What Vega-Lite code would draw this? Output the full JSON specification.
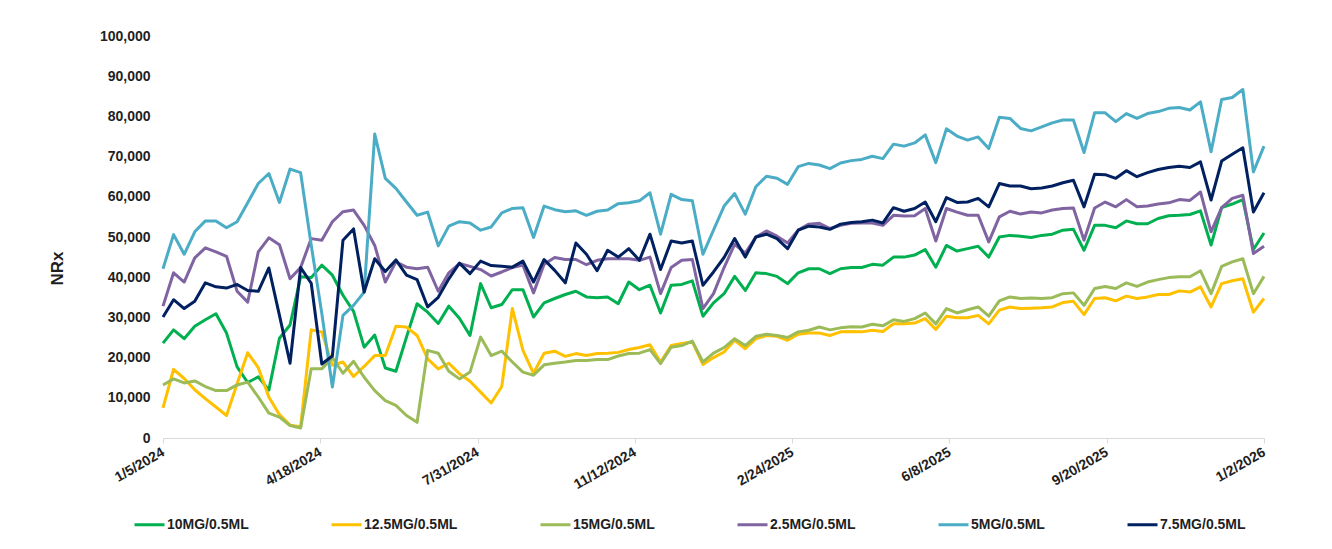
{
  "$schema": "https://vega.github.io/schema/vega-lite/v6.json",
  "width": 1101,
  "height": 402,
  "autosize": {"type": "none"},
  "padding": {"left": 163, "top": 36, "right": 68, "bottom": 111},
  "background": "white",
  "config": {"font": "Liberation Sans", "view": {"stroke": null}},
  "data": {"values": [
    {"s":"10MG/0.5ML","d":"2024-01-05","v":23600},{"s":"10MG/0.5ML","d":"2024-01-12","v":26900},{"s":"10MG/0.5ML","d":"2024-01-19","v":24700},{"s":"10MG/0.5ML","d":"2024-01-26","v":27800},{"s":"10MG/0.5ML","d":"2024-02-02","v":29400},{"s":"10MG/0.5ML","d":"2024-02-09","v":30900},{"s":"10MG/0.5ML","d":"2024-02-16","v":26100},{"s":"10MG/0.5ML","d":"2024-02-23","v":17700},{"s":"10MG/0.5ML","d":"2024-03-01","v":13800},{"s":"10MG/0.5ML","d":"2024-03-08","v":15200},
    {"s":"10MG/0.5ML","d":"2024-03-15","v":11900},{"s":"10MG/0.5ML","d":"2024-03-22","v":24800},{"s":"10MG/0.5ML","d":"2024-03-29","v":28100},{"s":"10MG/0.5ML","d":"2024-04-05","v":40100},{"s":"10MG/0.5ML","d":"2024-04-12","v":39900},{"s":"10MG/0.5ML","d":"2024-04-19","v":43000},{"s":"10MG/0.5ML","d":"2024-04-26","v":40500},{"s":"10MG/0.5ML","d":"2024-05-03","v":35500},{"s":"10MG/0.5ML","d":"2024-05-10","v":31500},{"s":"10MG/0.5ML","d":"2024-05-17","v":22600},
    {"s":"10MG/0.5ML","d":"2024-05-24","v":25600},{"s":"10MG/0.5ML","d":"2024-05-31","v":17400},{"s":"10MG/0.5ML","d":"2024-06-07","v":16600},{"s":"10MG/0.5ML","d":"2024-06-14","v":25100},{"s":"10MG/0.5ML","d":"2024-06-21","v":33400},{"s":"10MG/0.5ML","d":"2024-06-28","v":31300},{"s":"10MG/0.5ML","d":"2024-07-05","v":28500},{"s":"10MG/0.5ML","d":"2024-07-12","v":32800},{"s":"10MG/0.5ML","d":"2024-07-19","v":29800},{"s":"10MG/0.5ML","d":"2024-07-26","v":25500},
    {"s":"10MG/0.5ML","d":"2024-08-02","v":38400},{"s":"10MG/0.5ML","d":"2024-08-09","v":32400},{"s":"10MG/0.5ML","d":"2024-08-16","v":33200},{"s":"10MG/0.5ML","d":"2024-08-23","v":36900},{"s":"10MG/0.5ML","d":"2024-08-30","v":36900},{"s":"10MG/0.5ML","d":"2024-09-06","v":30100},{"s":"10MG/0.5ML","d":"2024-09-13","v":33600},{"s":"10MG/0.5ML","d":"2024-09-20","v":34700},{"s":"10MG/0.5ML","d":"2024-09-27","v":35700},{"s":"10MG/0.5ML","d":"2024-10-04","v":36500},
    {"s":"10MG/0.5ML","d":"2024-10-11","v":35100},{"s":"10MG/0.5ML","d":"2024-10-18","v":34900},{"s":"10MG/0.5ML","d":"2024-10-25","v":35100},{"s":"10MG/0.5ML","d":"2024-11-01","v":33400},{"s":"10MG/0.5ML","d":"2024-11-08","v":38800},{"s":"10MG/0.5ML","d":"2024-11-15","v":36900},{"s":"10MG/0.5ML","d":"2024-11-22","v":38000},{"s":"10MG/0.5ML","d":"2024-11-29","v":31100},{"s":"10MG/0.5ML","d":"2024-12-06","v":38000},{"s":"10MG/0.5ML","d":"2024-12-13","v":38200},
    {"s":"10MG/0.5ML","d":"2024-12-20","v":39100},{"s":"10MG/0.5ML","d":"2024-12-27","v":30300},{"s":"10MG/0.5ML","d":"2025-01-03","v":33600},{"s":"10MG/0.5ML","d":"2025-01-10","v":35900},{"s":"10MG/0.5ML","d":"2025-01-17","v":40200},{"s":"10MG/0.5ML","d":"2025-01-24","v":36700},{"s":"10MG/0.5ML","d":"2025-01-31","v":41100},{"s":"10MG/0.5ML","d":"2025-02-07","v":40900},{"s":"10MG/0.5ML","d":"2025-02-14","v":40200},{"s":"10MG/0.5ML","d":"2025-02-21","v":38400},
    {"s":"10MG/0.5ML","d":"2025-02-28","v":41100},{"s":"10MG/0.5ML","d":"2025-03-07","v":42100},{"s":"10MG/0.5ML","d":"2025-03-14","v":42100},{"s":"10MG/0.5ML","d":"2025-03-21","v":40900},{"s":"10MG/0.5ML","d":"2025-03-28","v":42100},{"s":"10MG/0.5ML","d":"2025-04-04","v":42400},{"s":"10MG/0.5ML","d":"2025-04-11","v":42400},{"s":"10MG/0.5ML","d":"2025-04-18","v":43200},{"s":"10MG/0.5ML","d":"2025-04-25","v":43000},{"s":"10MG/0.5ML","d":"2025-05-02","v":45000},
    {"s":"10MG/0.5ML","d":"2025-05-09","v":45000},{"s":"10MG/0.5ML","d":"2025-05-16","v":45500},{"s":"10MG/0.5ML","d":"2025-05-23","v":46900},{"s":"10MG/0.5ML","d":"2025-05-30","v":42500},{"s":"10MG/0.5ML","d":"2025-06-06","v":47900},{"s":"10MG/0.5ML","d":"2025-06-13","v":46500},{"s":"10MG/0.5ML","d":"2025-06-20","v":47100},{"s":"10MG/0.5ML","d":"2025-06-27","v":47700},{"s":"10MG/0.5ML","d":"2025-07-04","v":45000},{"s":"10MG/0.5ML","d":"2025-07-11","v":50000},
    {"s":"10MG/0.5ML","d":"2025-07-18","v":50400},{"s":"10MG/0.5ML","d":"2025-07-25","v":50200},{"s":"10MG/0.5ML","d":"2025-08-01","v":49900},{"s":"10MG/0.5ML","d":"2025-08-08","v":50400},{"s":"10MG/0.5ML","d":"2025-08-15","v":50700},{"s":"10MG/0.5ML","d":"2025-08-22","v":51700},{"s":"10MG/0.5ML","d":"2025-08-29","v":51900},{"s":"10MG/0.5ML","d":"2025-09-05","v":46700},{"s":"10MG/0.5ML","d":"2025-09-12","v":52900},{"s":"10MG/0.5ML","d":"2025-09-19","v":52900},
    {"s":"10MG/0.5ML","d":"2025-09-26","v":52300},{"s":"10MG/0.5ML","d":"2025-10-03","v":54000},{"s":"10MG/0.5ML","d":"2025-10-10","v":53300},{"s":"10MG/0.5ML","d":"2025-10-17","v":53300},{"s":"10MG/0.5ML","d":"2025-10-24","v":54600},{"s":"10MG/0.5ML","d":"2025-10-31","v":55300},{"s":"10MG/0.5ML","d":"2025-11-07","v":55400},{"s":"10MG/0.5ML","d":"2025-11-14","v":55600},{"s":"10MG/0.5ML","d":"2025-11-21","v":56500},{"s":"10MG/0.5ML","d":"2025-11-28","v":48000},
    {"s":"10MG/0.5ML","d":"2025-12-05","v":57300},{"s":"10MG/0.5ML","d":"2025-12-12","v":58200},{"s":"10MG/0.5ML","d":"2025-12-19","v":59300},{"s":"10MG/0.5ML","d":"2025-12-26","v":46900},{"s":"10MG/0.5ML","d":"2026-01-02","v":51000},

    {"s":"12.5MG/0.5ML","d":"2024-01-05","v":7500},{"s":"12.5MG/0.5ML","d":"2024-01-12","v":17100},{"s":"12.5MG/0.5ML","d":"2024-01-19","v":14800},{"s":"12.5MG/0.5ML","d":"2024-01-26","v":12000},{"s":"12.5MG/0.5ML","d":"2024-02-02","v":9800},{"s":"12.5MG/0.5ML","d":"2024-02-09","v":7700},{"s":"12.5MG/0.5ML","d":"2024-02-16","v":5600},{"s":"12.5MG/0.5ML","d":"2024-02-23","v":13500},{"s":"12.5MG/0.5ML","d":"2024-03-01","v":21200},{"s":"12.5MG/0.5ML","d":"2024-03-08","v":17500},
    {"s":"12.5MG/0.5ML","d":"2024-03-15","v":10200},{"s":"12.5MG/0.5ML","d":"2024-03-22","v":5800},{"s":"12.5MG/0.5ML","d":"2024-03-29","v":3200},{"s":"12.5MG/0.5ML","d":"2024-04-05","v":2800},{"s":"12.5MG/0.5ML","d":"2024-04-12","v":26900},{"s":"12.5MG/0.5ML","d":"2024-04-19","v":26400},{"s":"12.5MG/0.5ML","d":"2024-04-26","v":18100},{"s":"12.5MG/0.5ML","d":"2024-05-03","v":18900},{"s":"12.5MG/0.5ML","d":"2024-05-10","v":15300},{"s":"12.5MG/0.5ML","d":"2024-05-17","v":17800},
    {"s":"12.5MG/0.5ML","d":"2024-05-24","v":20500},{"s":"12.5MG/0.5ML","d":"2024-05-31","v":20500},{"s":"12.5MG/0.5ML","d":"2024-06-07","v":27800},{"s":"12.5MG/0.5ML","d":"2024-06-14","v":27600},{"s":"12.5MG/0.5ML","d":"2024-06-21","v":25500},{"s":"12.5MG/0.5ML","d":"2024-06-28","v":19700},{"s":"12.5MG/0.5ML","d":"2024-07-05","v":17200},{"s":"12.5MG/0.5ML","d":"2024-07-12","v":18600},{"s":"12.5MG/0.5ML","d":"2024-07-19","v":16000},{"s":"12.5MG/0.5ML","d":"2024-07-26","v":14100},
    {"s":"12.5MG/0.5ML","d":"2024-08-02","v":11400},{"s":"12.5MG/0.5ML","d":"2024-08-09","v":8700},{"s":"12.5MG/0.5ML","d":"2024-08-16","v":12800},{"s":"12.5MG/0.5ML","d":"2024-08-23","v":32200},{"s":"12.5MG/0.5ML","d":"2024-08-30","v":21800},{"s":"12.5MG/0.5ML","d":"2024-09-06","v":16100},{"s":"12.5MG/0.5ML","d":"2024-09-13","v":21100},{"s":"12.5MG/0.5ML","d":"2024-09-20","v":21600},{"s":"12.5MG/0.5ML","d":"2024-09-27","v":20300},{"s":"12.5MG/0.5ML","d":"2024-10-04","v":21000},
    {"s":"12.5MG/0.5ML","d":"2024-10-11","v":20500},{"s":"12.5MG/0.5ML","d":"2024-10-18","v":21000},{"s":"12.5MG/0.5ML","d":"2024-10-25","v":21100},{"s":"12.5MG/0.5ML","d":"2024-11-01","v":21300},{"s":"12.5MG/0.5ML","d":"2024-11-08","v":22000},{"s":"12.5MG/0.5ML","d":"2024-11-15","v":22500},{"s":"12.5MG/0.5ML","d":"2024-11-22","v":23200},{"s":"12.5MG/0.5ML","d":"2024-11-29","v":18900},{"s":"12.5MG/0.5ML","d":"2024-12-06","v":23000},{"s":"12.5MG/0.5ML","d":"2024-12-13","v":23500},
    {"s":"12.5MG/0.5ML","d":"2024-12-20","v":23900},{"s":"12.5MG/0.5ML","d":"2024-12-27","v":18300},{"s":"12.5MG/0.5ML","d":"2025-01-03","v":20000},{"s":"12.5MG/0.5ML","d":"2025-01-10","v":21400},{"s":"12.5MG/0.5ML","d":"2025-01-17","v":24300},{"s":"12.5MG/0.5ML","d":"2025-01-24","v":22200},{"s":"12.5MG/0.5ML","d":"2025-01-31","v":24700},{"s":"12.5MG/0.5ML","d":"2025-02-07","v":25500},{"s":"12.5MG/0.5ML","d":"2025-02-14","v":25300},{"s":"12.5MG/0.5ML","d":"2025-02-21","v":24300},
    {"s":"12.5MG/0.5ML","d":"2025-02-28","v":25800},{"s":"12.5MG/0.5ML","d":"2025-03-07","v":26100},{"s":"12.5MG/0.5ML","d":"2025-03-14","v":26100},{"s":"12.5MG/0.5ML","d":"2025-03-21","v":25500},{"s":"12.5MG/0.5ML","d":"2025-03-28","v":26400},{"s":"12.5MG/0.5ML","d":"2025-04-04","v":26500},{"s":"12.5MG/0.5ML","d":"2025-04-11","v":26400},{"s":"12.5MG/0.5ML","d":"2025-04-18","v":26800},{"s":"12.5MG/0.5ML","d":"2025-04-25","v":26500},{"s":"12.5MG/0.5ML","d":"2025-05-02","v":28400},
    {"s":"12.5MG/0.5ML","d":"2025-05-09","v":28400},{"s":"12.5MG/0.5ML","d":"2025-05-16","v":28600},{"s":"12.5MG/0.5ML","d":"2025-05-23","v":29700},{"s":"12.5MG/0.5ML","d":"2025-05-30","v":27000},{"s":"12.5MG/0.5ML","d":"2025-06-06","v":30300},{"s":"12.5MG/0.5ML","d":"2025-06-13","v":29900},{"s":"12.5MG/0.5ML","d":"2025-06-20","v":29900},{"s":"12.5MG/0.5ML","d":"2025-06-27","v":30500},{"s":"12.5MG/0.5ML","d":"2025-07-04","v":28400},{"s":"12.5MG/0.5ML","d":"2025-07-11","v":31800},
    {"s":"12.5MG/0.5ML","d":"2025-07-18","v":32600},{"s":"12.5MG/0.5ML","d":"2025-07-25","v":32200},{"s":"12.5MG/0.5ML","d":"2025-08-01","v":32300},{"s":"12.5MG/0.5ML","d":"2025-08-08","v":32400},{"s":"12.5MG/0.5ML","d":"2025-08-15","v":32600},{"s":"12.5MG/0.5ML","d":"2025-08-22","v":33700},{"s":"12.5MG/0.5ML","d":"2025-08-29","v":34000},{"s":"12.5MG/0.5ML","d":"2025-09-05","v":30700},{"s":"12.5MG/0.5ML","d":"2025-09-12","v":34700},{"s":"12.5MG/0.5ML","d":"2025-09-19","v":34900},
    {"s":"12.5MG/0.5ML","d":"2025-09-26","v":34100},{"s":"12.5MG/0.5ML","d":"2025-10-03","v":35300},{"s":"12.5MG/0.5ML","d":"2025-10-10","v":34700},{"s":"12.5MG/0.5ML","d":"2025-10-17","v":35100},{"s":"12.5MG/0.5ML","d":"2025-10-24","v":35700},{"s":"12.5MG/0.5ML","d":"2025-10-31","v":35700},{"s":"12.5MG/0.5ML","d":"2025-11-07","v":36600},{"s":"12.5MG/0.5ML","d":"2025-11-14","v":36300},{"s":"12.5MG/0.5ML","d":"2025-11-21","v":37600},{"s":"12.5MG/0.5ML","d":"2025-11-28","v":32600},
    {"s":"12.5MG/0.5ML","d":"2025-12-05","v":38400},{"s":"12.5MG/0.5ML","d":"2025-12-12","v":39100},{"s":"12.5MG/0.5ML","d":"2025-12-19","v":39600},{"s":"12.5MG/0.5ML","d":"2025-12-26","v":31300},{"s":"12.5MG/0.5ML","d":"2026-01-02","v":34700},

    {"s":"15MG/0.5ML","d":"2024-01-05","v":13200},{"s":"15MG/0.5ML","d":"2024-01-12","v":14700},{"s":"15MG/0.5ML","d":"2024-01-19","v":13700},{"s":"15MG/0.5ML","d":"2024-01-26","v":14200},{"s":"15MG/0.5ML","d":"2024-02-02","v":12800},{"s":"15MG/0.5ML","d":"2024-02-09","v":11800},{"s":"15MG/0.5ML","d":"2024-02-16","v":11800},{"s":"15MG/0.5ML","d":"2024-02-23","v":13200},{"s":"15MG/0.5ML","d":"2024-03-01","v":13900},{"s":"15MG/0.5ML","d":"2024-03-08","v":10200},
    {"s":"15MG/0.5ML","d":"2024-03-15","v":6200},{"s":"15MG/0.5ML","d":"2024-03-22","v":5200},{"s":"15MG/0.5ML","d":"2024-03-29","v":3100},{"s":"15MG/0.5ML","d":"2024-04-05","v":2500},{"s":"15MG/0.5ML","d":"2024-04-12","v":17200},{"s":"15MG/0.5ML","d":"2024-04-19","v":17200},{"s":"15MG/0.5ML","d":"2024-04-26","v":20000},{"s":"15MG/0.5ML","d":"2024-05-03","v":16100},{"s":"15MG/0.5ML","d":"2024-05-10","v":19100},{"s":"15MG/0.5ML","d":"2024-05-17","v":15100},
    {"s":"15MG/0.5ML","d":"2024-05-24","v":11800},{"s":"15MG/0.5ML","d":"2024-05-31","v":9300},{"s":"15MG/0.5ML","d":"2024-06-07","v":8100},{"s":"15MG/0.5ML","d":"2024-06-14","v":5600},{"s":"15MG/0.5ML","d":"2024-06-21","v":3900},{"s":"15MG/0.5ML","d":"2024-06-28","v":21800},{"s":"15MG/0.5ML","d":"2024-07-05","v":21100},{"s":"15MG/0.5ML","d":"2024-07-12","v":16600},{"s":"15MG/0.5ML","d":"2024-07-19","v":14700},{"s":"15MG/0.5ML","d":"2024-07-26","v":16400},
    {"s":"15MG/0.5ML","d":"2024-08-02","v":25100},{"s":"15MG/0.5ML","d":"2024-08-09","v":20500},{"s":"15MG/0.5ML","d":"2024-08-16","v":21600},{"s":"15MG/0.5ML","d":"2024-08-23","v":18900},{"s":"15MG/0.5ML","d":"2024-08-30","v":16400},{"s":"15MG/0.5ML","d":"2024-09-06","v":15600},{"s":"15MG/0.5ML","d":"2024-09-13","v":18200},{"s":"15MG/0.5ML","d":"2024-09-20","v":18600},{"s":"15MG/0.5ML","d":"2024-09-27","v":18900},{"s":"15MG/0.5ML","d":"2024-10-04","v":19300},
    {"s":"15MG/0.5ML","d":"2024-10-11","v":19300},{"s":"15MG/0.5ML","d":"2024-10-18","v":19500},{"s":"15MG/0.5ML","d":"2024-10-25","v":19500},{"s":"15MG/0.5ML","d":"2024-11-01","v":20400},{"s":"15MG/0.5ML","d":"2024-11-08","v":21000},{"s":"15MG/0.5ML","d":"2024-11-15","v":21100},{"s":"15MG/0.5ML","d":"2024-11-22","v":22000},{"s":"15MG/0.5ML","d":"2024-11-29","v":18500},{"s":"15MG/0.5ML","d":"2024-12-06","v":22600},{"s":"15MG/0.5ML","d":"2024-12-13","v":23000},
    {"s":"15MG/0.5ML","d":"2024-12-20","v":24100},{"s":"15MG/0.5ML","d":"2024-12-27","v":18900},{"s":"15MG/0.5ML","d":"2025-01-03","v":21100},{"s":"15MG/0.5ML","d":"2025-01-10","v":22500},{"s":"15MG/0.5ML","d":"2025-01-17","v":24700},{"s":"15MG/0.5ML","d":"2025-01-24","v":23000},{"s":"15MG/0.5ML","d":"2025-01-31","v":25300},{"s":"15MG/0.5ML","d":"2025-02-07","v":25800},{"s":"15MG/0.5ML","d":"2025-02-14","v":25500},{"s":"15MG/0.5ML","d":"2025-02-21","v":25000},
    {"s":"15MG/0.5ML","d":"2025-02-28","v":26400},{"s":"15MG/0.5ML","d":"2025-03-07","v":26800},{"s":"15MG/0.5ML","d":"2025-03-14","v":27600},{"s":"15MG/0.5ML","d":"2025-03-21","v":26900},{"s":"15MG/0.5ML","d":"2025-03-28","v":27400},{"s":"15MG/0.5ML","d":"2025-04-04","v":27700},{"s":"15MG/0.5ML","d":"2025-04-11","v":27600},{"s":"15MG/0.5ML","d":"2025-04-18","v":28300},{"s":"15MG/0.5ML","d":"2025-04-25","v":27900},{"s":"15MG/0.5ML","d":"2025-05-02","v":29400},
    {"s":"15MG/0.5ML","d":"2025-05-09","v":29000},{"s":"15MG/0.5ML","d":"2025-05-16","v":29700},{"s":"15MG/0.5ML","d":"2025-05-23","v":31100},{"s":"15MG/0.5ML","d":"2025-05-30","v":28400},{"s":"15MG/0.5ML","d":"2025-06-06","v":32200},{"s":"15MG/0.5ML","d":"2025-06-13","v":31100},{"s":"15MG/0.5ML","d":"2025-06-20","v":31900},{"s":"15MG/0.5ML","d":"2025-06-27","v":32600},{"s":"15MG/0.5ML","d":"2025-07-04","v":30300},{"s":"15MG/0.5ML","d":"2025-07-11","v":34100},
    {"s":"15MG/0.5ML","d":"2025-07-18","v":35100},{"s":"15MG/0.5ML","d":"2025-07-25","v":34700},{"s":"15MG/0.5ML","d":"2025-08-01","v":34800},{"s":"15MG/0.5ML","d":"2025-08-08","v":34700},{"s":"15MG/0.5ML","d":"2025-08-15","v":34900},{"s":"15MG/0.5ML","d":"2025-08-22","v":35900},{"s":"15MG/0.5ML","d":"2025-08-29","v":36100},{"s":"15MG/0.5ML","d":"2025-09-05","v":33000},{"s":"15MG/0.5ML","d":"2025-09-12","v":37200},{"s":"15MG/0.5ML","d":"2025-09-19","v":37700},
    {"s":"15MG/0.5ML","d":"2025-09-26","v":37200},{"s":"15MG/0.5ML","d":"2025-10-03","v":38600},{"s":"15MG/0.5ML","d":"2025-10-10","v":37700},{"s":"15MG/0.5ML","d":"2025-10-17","v":38800},{"s":"15MG/0.5ML","d":"2025-10-24","v":39400},{"s":"15MG/0.5ML","d":"2025-10-31","v":39900},{"s":"15MG/0.5ML","d":"2025-11-07","v":40100},{"s":"15MG/0.5ML","d":"2025-11-14","v":40100},{"s":"15MG/0.5ML","d":"2025-11-21","v":41600},{"s":"15MG/0.5ML","d":"2025-11-28","v":35900},
    {"s":"15MG/0.5ML","d":"2025-12-05","v":42700},{"s":"15MG/0.5ML","d":"2025-12-12","v":43800},{"s":"15MG/0.5ML","d":"2025-12-19","v":44600},{"s":"15MG/0.5ML","d":"2025-12-26","v":35900},{"s":"15MG/0.5ML","d":"2026-01-02","v":40200},

    {"s":"2.5MG/0.5ML","d":"2024-01-05","v":32800},{"s":"2.5MG/0.5ML","d":"2024-01-12","v":41100},{"s":"2.5MG/0.5ML","d":"2024-01-19","v":38800},{"s":"2.5MG/0.5ML","d":"2024-01-26","v":44800},{"s":"2.5MG/0.5ML","d":"2024-02-02","v":47300},{"s":"2.5MG/0.5ML","d":"2024-02-09","v":46300},{"s":"2.5MG/0.5ML","d":"2024-02-16","v":45200},{"s":"2.5MG/0.5ML","d":"2024-02-23","v":36500},{"s":"2.5MG/0.5ML","d":"2024-03-01","v":33800},{"s":"2.5MG/0.5ML","d":"2024-03-08","v":46300},
    {"s":"2.5MG/0.5ML","d":"2024-03-15","v":49800},{"s":"2.5MG/0.5ML","d":"2024-03-22","v":48100},{"s":"2.5MG/0.5ML","d":"2024-03-29","v":39600},{"s":"2.5MG/0.5ML","d":"2024-04-05","v":42400},{"s":"2.5MG/0.5ML","d":"2024-04-12","v":49600},{"s":"2.5MG/0.5ML","d":"2024-04-19","v":49200},{"s":"2.5MG/0.5ML","d":"2024-04-26","v":53800},{"s":"2.5MG/0.5ML","d":"2024-05-03","v":56300},{"s":"2.5MG/0.5ML","d":"2024-05-10","v":56700},{"s":"2.5MG/0.5ML","d":"2024-05-17","v":52900},
    {"s":"2.5MG/0.5ML","d":"2024-05-24","v":47900},{"s":"2.5MG/0.5ML","d":"2024-05-31","v":38800},{"s":"2.5MG/0.5ML","d":"2024-06-07","v":43800},{"s":"2.5MG/0.5ML","d":"2024-06-14","v":42500},{"s":"2.5MG/0.5ML","d":"2024-06-21","v":42100},{"s":"2.5MG/0.5ML","d":"2024-06-28","v":42500},{"s":"2.5MG/0.5ML","d":"2024-07-05","v":36500},{"s":"2.5MG/0.5ML","d":"2024-07-12","v":41100},{"s":"2.5MG/0.5ML","d":"2024-07-19","v":43400},{"s":"2.5MG/0.5ML","d":"2024-07-26","v":42700},
    {"s":"2.5MG/0.5ML","d":"2024-08-02","v":41900},{"s":"2.5MG/0.5ML","d":"2024-08-09","v":40300},{"s":"2.5MG/0.5ML","d":"2024-08-16","v":41300},{"s":"2.5MG/0.5ML","d":"2024-08-23","v":42400},{"s":"2.5MG/0.5ML","d":"2024-08-30","v":43000},{"s":"2.5MG/0.5ML","d":"2024-09-06","v":36100},{"s":"2.5MG/0.5ML","d":"2024-09-13","v":43200},{"s":"2.5MG/0.5ML","d":"2024-09-20","v":44900},{"s":"2.5MG/0.5ML","d":"2024-09-27","v":44400},{"s":"2.5MG/0.5ML","d":"2024-10-04","v":44400},
    {"s":"2.5MG/0.5ML","d":"2024-10-11","v":43100},{"s":"2.5MG/0.5ML","d":"2024-10-18","v":44200},{"s":"2.5MG/0.5ML","d":"2024-10-25","v":44600},{"s":"2.5MG/0.5ML","d":"2024-11-01","v":44600},{"s":"2.5MG/0.5ML","d":"2024-11-08","v":44600},{"s":"2.5MG/0.5ML","d":"2024-11-15","v":44200},{"s":"2.5MG/0.5ML","d":"2024-11-22","v":45000},{"s":"2.5MG/0.5ML","d":"2024-11-29","v":35900},{"s":"2.5MG/0.5ML","d":"2024-12-06","v":42400},{"s":"2.5MG/0.5ML","d":"2024-12-13","v":44200},
    {"s":"2.5MG/0.5ML","d":"2024-12-20","v":44400},{"s":"2.5MG/0.5ML","d":"2024-12-27","v":32200},{"s":"2.5MG/0.5ML","d":"2025-01-03","v":35900},{"s":"2.5MG/0.5ML","d":"2025-01-10","v":42400},{"s":"2.5MG/0.5ML","d":"2025-01-17","v":48200},{"s":"2.5MG/0.5ML","d":"2025-01-24","v":46000},{"s":"2.5MG/0.5ML","d":"2025-01-31","v":50000},{"s":"2.5MG/0.5ML","d":"2025-02-07","v":51500},{"s":"2.5MG/0.5ML","d":"2025-02-14","v":50200},{"s":"2.5MG/0.5ML","d":"2025-02-21","v":48500},
    {"s":"2.5MG/0.5ML","d":"2025-02-28","v":51700},{"s":"2.5MG/0.5ML","d":"2025-03-07","v":53200},{"s":"2.5MG/0.5ML","d":"2025-03-14","v":53400},{"s":"2.5MG/0.5ML","d":"2025-03-21","v":52100},{"s":"2.5MG/0.5ML","d":"2025-03-28","v":52900},{"s":"2.5MG/0.5ML","d":"2025-04-04","v":53400},{"s":"2.5MG/0.5ML","d":"2025-04-11","v":53500},{"s":"2.5MG/0.5ML","d":"2025-04-18","v":53500},{"s":"2.5MG/0.5ML","d":"2025-04-25","v":52900},{"s":"2.5MG/0.5ML","d":"2025-05-02","v":55400},
    {"s":"2.5MG/0.5ML","d":"2025-05-09","v":55200},{"s":"2.5MG/0.5ML","d":"2025-05-16","v":55300},{"s":"2.5MG/0.5ML","d":"2025-05-23","v":57100},{"s":"2.5MG/0.5ML","d":"2025-05-30","v":49000},{"s":"2.5MG/0.5ML","d":"2025-06-06","v":57100},{"s":"2.5MG/0.5ML","d":"2025-06-13","v":56200},{"s":"2.5MG/0.5ML","d":"2025-06-20","v":55400},{"s":"2.5MG/0.5ML","d":"2025-06-27","v":55400},{"s":"2.5MG/0.5ML","d":"2025-07-04","v":48800},{"s":"2.5MG/0.5ML","d":"2025-07-11","v":55000},
    {"s":"2.5MG/0.5ML","d":"2025-07-18","v":56400},{"s":"2.5MG/0.5ML","d":"2025-07-25","v":55700},{"s":"2.5MG/0.5ML","d":"2025-08-01","v":56200},{"s":"2.5MG/0.5ML","d":"2025-08-08","v":56000},{"s":"2.5MG/0.5ML","d":"2025-08-15","v":56700},{"s":"2.5MG/0.5ML","d":"2025-08-22","v":57100},{"s":"2.5MG/0.5ML","d":"2025-08-29","v":57200},{"s":"2.5MG/0.5ML","d":"2025-09-05","v":49200},{"s":"2.5MG/0.5ML","d":"2025-09-12","v":57200},{"s":"2.5MG/0.5ML","d":"2025-09-19","v":58700},
    {"s":"2.5MG/0.5ML","d":"2025-09-26","v":57500},{"s":"2.5MG/0.5ML","d":"2025-10-03","v":59300},{"s":"2.5MG/0.5ML","d":"2025-10-10","v":57500},{"s":"2.5MG/0.5ML","d":"2025-10-17","v":57700},{"s":"2.5MG/0.5ML","d":"2025-10-24","v":58200},{"s":"2.5MG/0.5ML","d":"2025-10-31","v":58500},{"s":"2.5MG/0.5ML","d":"2025-11-07","v":59300},{"s":"2.5MG/0.5ML","d":"2025-11-14","v":59100},{"s":"2.5MG/0.5ML","d":"2025-11-21","v":61200},{"s":"2.5MG/0.5ML","d":"2025-11-28","v":51300},
    {"s":"2.5MG/0.5ML","d":"2025-12-05","v":57300},{"s":"2.5MG/0.5ML","d":"2025-12-12","v":59600},{"s":"2.5MG/0.5ML","d":"2025-12-19","v":60400},{"s":"2.5MG/0.5ML","d":"2025-12-26","v":45900},{"s":"2.5MG/0.5ML","d":"2026-01-02","v":47700},

    {"s":"5MG/0.5ML","d":"2024-01-05","v":42100},{"s":"5MG/0.5ML","d":"2024-01-12","v":50600},{"s":"5MG/0.5ML","d":"2024-01-19","v":45700},{"s":"5MG/0.5ML","d":"2024-01-26","v":51300},{"s":"5MG/0.5ML","d":"2024-02-02","v":54000},{"s":"5MG/0.5ML","d":"2024-02-09","v":54000},{"s":"5MG/0.5ML","d":"2024-02-16","v":52300},{"s":"5MG/0.5ML","d":"2024-02-23","v":53800},{"s":"5MG/0.5ML","d":"2024-03-01","v":58500},{"s":"5MG/0.5ML","d":"2024-03-08","v":63300},
    {"s":"5MG/0.5ML","d":"2024-03-15","v":65800},{"s":"5MG/0.5ML","d":"2024-03-22","v":58600},{"s":"5MG/0.5ML","d":"2024-03-29","v":66900},{"s":"5MG/0.5ML","d":"2024-04-05","v":66000},{"s":"5MG/0.5ML","d":"2024-04-12","v":48000},{"s":"5MG/0.5ML","d":"2024-04-19","v":31000},{"s":"5MG/0.5ML","d":"2024-04-26","v":12700},{"s":"5MG/0.5ML","d":"2024-05-03","v":30500},{"s":"5MG/0.5ML","d":"2024-05-10","v":33000},{"s":"5MG/0.5ML","d":"2024-05-17","v":36300},
    {"s":"5MG/0.5ML","d":"2024-05-24","v":75600},{"s":"5MG/0.5ML","d":"2024-05-31","v":64600},{"s":"5MG/0.5ML","d":"2024-06-07","v":62100},{"s":"5MG/0.5ML","d":"2024-06-14","v":58700},{"s":"5MG/0.5ML","d":"2024-06-21","v":55400},{"s":"5MG/0.5ML","d":"2024-06-28","v":56200},{"s":"5MG/0.5ML","d":"2024-07-05","v":47800},{"s":"5MG/0.5ML","d":"2024-07-12","v":52700},{"s":"5MG/0.5ML","d":"2024-07-19","v":53800},{"s":"5MG/0.5ML","d":"2024-07-26","v":53500},
    {"s":"5MG/0.5ML","d":"2024-08-02","v":51700},{"s":"5MG/0.5ML","d":"2024-08-09","v":52500},{"s":"5MG/0.5ML","d":"2024-08-16","v":56000},{"s":"5MG/0.5ML","d":"2024-08-23","v":57100},{"s":"5MG/0.5ML","d":"2024-08-30","v":57300},{"s":"5MG/0.5ML","d":"2024-09-06","v":49900},{"s":"5MG/0.5ML","d":"2024-09-13","v":57700},{"s":"5MG/0.5ML","d":"2024-09-20","v":56800},{"s":"5MG/0.5ML","d":"2024-09-27","v":56300},{"s":"5MG/0.5ML","d":"2024-10-04","v":56500},
    {"s":"5MG/0.5ML","d":"2024-10-11","v":55400},{"s":"5MG/0.5ML","d":"2024-10-18","v":56400},{"s":"5MG/0.5ML","d":"2024-10-25","v":56700},{"s":"5MG/0.5ML","d":"2024-11-01","v":58300},{"s":"5MG/0.5ML","d":"2024-11-08","v":58500},{"s":"5MG/0.5ML","d":"2024-11-15","v":59000},{"s":"5MG/0.5ML","d":"2024-11-22","v":61000},{"s":"5MG/0.5ML","d":"2024-11-29","v":50700},{"s":"5MG/0.5ML","d":"2024-12-06","v":60600},{"s":"5MG/0.5ML","d":"2024-12-13","v":59300},
    {"s":"5MG/0.5ML","d":"2024-12-20","v":59000},{"s":"5MG/0.5ML","d":"2024-12-27","v":45700},{"s":"5MG/0.5ML","d":"2025-01-03","v":51700},{"s":"5MG/0.5ML","d":"2025-01-10","v":57700},{"s":"5MG/0.5ML","d":"2025-01-17","v":60800},{"s":"5MG/0.5ML","d":"2025-01-24","v":55700},{"s":"5MG/0.5ML","d":"2025-01-31","v":62500},{"s":"5MG/0.5ML","d":"2025-02-07","v":65100},{"s":"5MG/0.5ML","d":"2025-02-14","v":64600},{"s":"5MG/0.5ML","d":"2025-02-21","v":63100},
    {"s":"5MG/0.5ML","d":"2025-02-28","v":67500},{"s":"5MG/0.5ML","d":"2025-03-07","v":68300},{"s":"5MG/0.5ML","d":"2025-03-14","v":67900},{"s":"5MG/0.5ML","d":"2025-03-21","v":67000},{"s":"5MG/0.5ML","d":"2025-03-28","v":68400},{"s":"5MG/0.5ML","d":"2025-04-04","v":69000},{"s":"5MG/0.5ML","d":"2025-04-11","v":69300},{"s":"5MG/0.5ML","d":"2025-04-18","v":70100},{"s":"5MG/0.5ML","d":"2025-04-25","v":69500},{"s":"5MG/0.5ML","d":"2025-05-02","v":73100},
    {"s":"5MG/0.5ML","d":"2025-05-09","v":72600},{"s":"5MG/0.5ML","d":"2025-05-16","v":73400},{"s":"5MG/0.5ML","d":"2025-05-23","v":75400},{"s":"5MG/0.5ML","d":"2025-05-30","v":68500},{"s":"5MG/0.5ML","d":"2025-06-06","v":76900},{"s":"5MG/0.5ML","d":"2025-06-13","v":75100},{"s":"5MG/0.5ML","d":"2025-06-20","v":74100},{"s":"5MG/0.5ML","d":"2025-06-27","v":74900},{"s":"5MG/0.5ML","d":"2025-07-04","v":72000},{"s":"5MG/0.5ML","d":"2025-07-11","v":79800},
    {"s":"5MG/0.5ML","d":"2025-07-18","v":79500},{"s":"5MG/0.5ML","d":"2025-07-25","v":77000},{"s":"5MG/0.5ML","d":"2025-08-01","v":76400},{"s":"5MG/0.5ML","d":"2025-08-08","v":77400},{"s":"5MG/0.5ML","d":"2025-08-15","v":78400},{"s":"5MG/0.5ML","d":"2025-08-22","v":79100},{"s":"5MG/0.5ML","d":"2025-08-29","v":79100},{"s":"5MG/0.5ML","d":"2025-09-05","v":71000},{"s":"5MG/0.5ML","d":"2025-09-12","v":80900},{"s":"5MG/0.5ML","d":"2025-09-19","v":80900},
    {"s":"5MG/0.5ML","d":"2025-09-26","v":78700},{"s":"5MG/0.5ML","d":"2025-10-03","v":80700},{"s":"5MG/0.5ML","d":"2025-10-10","v":79500},{"s":"5MG/0.5ML","d":"2025-10-17","v":80700},{"s":"5MG/0.5ML","d":"2025-10-24","v":81200},{"s":"5MG/0.5ML","d":"2025-10-31","v":82000},{"s":"5MG/0.5ML","d":"2025-11-07","v":82200},{"s":"5MG/0.5ML","d":"2025-11-14","v":81600},{"s":"5MG/0.5ML","d":"2025-11-21","v":83600},{"s":"5MG/0.5ML","d":"2025-11-28","v":71200},
    {"s":"5MG/0.5ML","d":"2025-12-05","v":84200},{"s":"5MG/0.5ML","d":"2025-12-12","v":84700},{"s":"5MG/0.5ML","d":"2025-12-19","v":86700},{"s":"5MG/0.5ML","d":"2025-12-26","v":66200},{"s":"5MG/0.5ML","d":"2026-01-02","v":72600},

    {"s":"7.5MG/0.5ML","d":"2024-01-05","v":30100},{"s":"7.5MG/0.5ML","d":"2024-01-12","v":34400},{"s":"7.5MG/0.5ML","d":"2024-01-19","v":32200},{"s":"7.5MG/0.5ML","d":"2024-01-26","v":34000},{"s":"7.5MG/0.5ML","d":"2024-02-02","v":38600},{"s":"7.5MG/0.5ML","d":"2024-02-09","v":37600},{"s":"7.5MG/0.5ML","d":"2024-02-16","v":37300},{"s":"7.5MG/0.5ML","d":"2024-02-23","v":38200},{"s":"7.5MG/0.5ML","d":"2024-03-01","v":36700},{"s":"7.5MG/0.5ML","d":"2024-03-08","v":36500},
    {"s":"7.5MG/0.5ML","d":"2024-03-15","v":42300},{"s":"7.5MG/0.5ML","d":"2024-03-22","v":30500},{"s":"7.5MG/0.5ML","d":"2024-03-29","v":18600},{"s":"7.5MG/0.5ML","d":"2024-04-05","v":42400},{"s":"7.5MG/0.5ML","d":"2024-04-12","v":38500},{"s":"7.5MG/0.5ML","d":"2024-04-19","v":18400},{"s":"7.5MG/0.5ML","d":"2024-04-26","v":20400},{"s":"7.5MG/0.5ML","d":"2024-05-03","v":49200},{"s":"7.5MG/0.5ML","d":"2024-05-10","v":52000},{"s":"7.5MG/0.5ML","d":"2024-05-17","v":36300},
    {"s":"7.5MG/0.5ML","d":"2024-05-24","v":44600},{"s":"7.5MG/0.5ML","d":"2024-05-31","v":41400},{"s":"7.5MG/0.5ML","d":"2024-06-07","v":44300},{"s":"7.5MG/0.5ML","d":"2024-06-14","v":40500},{"s":"7.5MG/0.5ML","d":"2024-06-21","v":39400},{"s":"7.5MG/0.5ML","d":"2024-06-28","v":32600},{"s":"7.5MG/0.5ML","d":"2024-07-05","v":35000},{"s":"7.5MG/0.5ML","d":"2024-07-12","v":39600},{"s":"7.5MG/0.5ML","d":"2024-07-19","v":43500},{"s":"7.5MG/0.5ML","d":"2024-07-26","v":40900},
    {"s":"7.5MG/0.5ML","d":"2024-08-02","v":44000},{"s":"7.5MG/0.5ML","d":"2024-08-09","v":42900},{"s":"7.5MG/0.5ML","d":"2024-08-16","v":42700},{"s":"7.5MG/0.5ML","d":"2024-08-23","v":42500},{"s":"7.5MG/0.5ML","d":"2024-08-30","v":44000},{"s":"7.5MG/0.5ML","d":"2024-09-06","v":38800},{"s":"7.5MG/0.5ML","d":"2024-09-13","v":44400},{"s":"7.5MG/0.5ML","d":"2024-09-20","v":41700},{"s":"7.5MG/0.5ML","d":"2024-09-27","v":38600},{"s":"7.5MG/0.5ML","d":"2024-10-04","v":48500},
    {"s":"7.5MG/0.5ML","d":"2024-10-11","v":45700},{"s":"7.5MG/0.5ML","d":"2024-10-18","v":41600},{"s":"7.5MG/0.5ML","d":"2024-10-25","v":46700},{"s":"7.5MG/0.5ML","d":"2024-11-01","v":45000},{"s":"7.5MG/0.5ML","d":"2024-11-08","v":47100},{"s":"7.5MG/0.5ML","d":"2024-11-15","v":44200},{"s":"7.5MG/0.5ML","d":"2024-11-22","v":50700},{"s":"7.5MG/0.5ML","d":"2024-11-29","v":41900},{"s":"7.5MG/0.5ML","d":"2024-12-06","v":49000},{"s":"7.5MG/0.5ML","d":"2024-12-13","v":48500},
    {"s":"7.5MG/0.5ML","d":"2024-12-20","v":49000},{"s":"7.5MG/0.5ML","d":"2024-12-27","v":38000},{"s":"7.5MG/0.5ML","d":"2025-01-03","v":41300},{"s":"7.5MG/0.5ML","d":"2025-01-10","v":44900},{"s":"7.5MG/0.5ML","d":"2025-01-17","v":49600},{"s":"7.5MG/0.5ML","d":"2025-01-24","v":45000},{"s":"7.5MG/0.5ML","d":"2025-01-31","v":50000},{"s":"7.5MG/0.5ML","d":"2025-02-07","v":50700},{"s":"7.5MG/0.5ML","d":"2025-02-14","v":49600},{"s":"7.5MG/0.5ML","d":"2025-02-21","v":47100},
    {"s":"7.5MG/0.5ML","d":"2025-02-28","v":51700},{"s":"7.5MG/0.5ML","d":"2025-03-07","v":52700},{"s":"7.5MG/0.5ML","d":"2025-03-14","v":52500},{"s":"7.5MG/0.5ML","d":"2025-03-21","v":51900},{"s":"7.5MG/0.5ML","d":"2025-03-28","v":53200},{"s":"7.5MG/0.5ML","d":"2025-04-04","v":53600},{"s":"7.5MG/0.5ML","d":"2025-04-11","v":53800},{"s":"7.5MG/0.5ML","d":"2025-04-18","v":54200},{"s":"7.5MG/0.5ML","d":"2025-04-25","v":53500},{"s":"7.5MG/0.5ML","d":"2025-05-02","v":57300},
    {"s":"7.5MG/0.5ML","d":"2025-05-09","v":56400},{"s":"7.5MG/0.5ML","d":"2025-05-16","v":57100},{"s":"7.5MG/0.5ML","d":"2025-05-23","v":58700},{"s":"7.5MG/0.5ML","d":"2025-05-30","v":53800},{"s":"7.5MG/0.5ML","d":"2025-06-06","v":59800},{"s":"7.5MG/0.5ML","d":"2025-06-13","v":58600},{"s":"7.5MG/0.5ML","d":"2025-06-20","v":58700},{"s":"7.5MG/0.5ML","d":"2025-06-27","v":59600},{"s":"7.5MG/0.5ML","d":"2025-07-04","v":57500},{"s":"7.5MG/0.5ML","d":"2025-07-11","v":63300},
    {"s":"7.5MG/0.5ML","d":"2025-07-18","v":62700},{"s":"7.5MG/0.5ML","d":"2025-07-25","v":62700},{"s":"7.5MG/0.5ML","d":"2025-08-01","v":62000},{"s":"7.5MG/0.5ML","d":"2025-08-08","v":62200},{"s":"7.5MG/0.5ML","d":"2025-08-15","v":62700},{"s":"7.5MG/0.5ML","d":"2025-08-22","v":63500},{"s":"7.5MG/0.5ML","d":"2025-08-29","v":64100},{"s":"7.5MG/0.5ML","d":"2025-09-05","v":57500},{"s":"7.5MG/0.5ML","d":"2025-09-12","v":65600},{"s":"7.5MG/0.5ML","d":"2025-09-19","v":65500},
    {"s":"7.5MG/0.5ML","d":"2025-09-26","v":64600},{"s":"7.5MG/0.5ML","d":"2025-10-03","v":66500},{"s":"7.5MG/0.5ML","d":"2025-10-10","v":65000},{"s":"7.5MG/0.5ML","d":"2025-10-17","v":66000},{"s":"7.5MG/0.5ML","d":"2025-10-24","v":66800},{"s":"7.5MG/0.5ML","d":"2025-10-31","v":67300},{"s":"7.5MG/0.5ML","d":"2025-11-07","v":67600},{"s":"7.5MG/0.5ML","d":"2025-11-14","v":67300},{"s":"7.5MG/0.5ML","d":"2025-11-21","v":68700},{"s":"7.5MG/0.5ML","d":"2025-11-28","v":59200},
    {"s":"7.5MG/0.5ML","d":"2025-12-05","v":68900},{"s":"7.5MG/0.5ML","d":"2025-12-12","v":70600},{"s":"7.5MG/0.5ML","d":"2025-12-19","v":72200},{"s":"7.5MG/0.5ML","d":"2025-12-26","v":56200},{"s":"7.5MG/0.5ML","d":"2026-01-02","v":61000}
  ]},
  "mark": {"type": "line", "strokeWidth": 3, "strokeJoin": "round"},
  "encoding": {
    "x": {
      "field": "d",
      "type": "temporal",
      "scale": {
        "type": "utc",
        "nice": false,
        "domain": [{"year": 2024, "month": 1, "date": 5, "utc": true}, {"year": 2026, "month": 1, "date": 2, "utc": true}]
      },
      "axis": {
        "title": null,
        "values": [
          {"year": 2024, "month": 1, "date": 5, "utc": true},
          {"year": 2024, "month": 4, "date": 18, "utc": true},
          {"year": 2024, "month": 7, "date": 31, "utc": true},
          {"year": 2024, "month": 11, "date": 12, "utc": true},
          {"year": 2025, "month": 2, "date": 24, "utc": true},
          {"year": 2025, "month": 6, "date": 8, "utc": true},
          {"year": 2025, "month": 9, "date": 20, "utc": true},
          {"year": 2026, "month": 1, "date": 2, "utc": true}
        ],
        "labelExpr": "utcFormat(datum.value, '%-m/%-d/%Y')",
        "grid": false,
        "labelAngle": -30,
        "labelAlign": "right",
        "labelBaseline": "middle",
        "labelFontSize": 14,
        "labelFontWeight": "bold",
        "labelColor": "#1F1F1F",
        "labelPadding": 8,
        "labelOverlap": false,
        "labelFlush": false,
        "labelBound": false,
        "domainColor": "#D9D9D9",
        "domainWidth": 1,
        "tickColor": "#D9D9D9",
        "tickSize": 5
      }
    },
    "y": {
      "field": "v",
      "type": "quantitative",
      "scale": {"domain": [0, 100000], "nice": false},
      "axis": {
        "title": "NRx",
        "values": [0, 10000, 20000, 30000, 40000, 50000, 60000, 70000, 80000, 90000, 100000],
        "format": ",d",
        "domain": false,
        "ticks": false,
        "grid": false,
        "labelFontSize": 14,
        "labelFontWeight": "bold",
        "labelColor": "#1F1F1F",
        "labelPadding": 13,
        "titleFontSize": 17,
        "titleFontWeight": "bold",
        "titleColor": "#1F1F1F",
        "titleAngle": -90,
        "titleAlign": "center",
        "titleBaseline": "middle",
        "titleX": -106,
        "titleY": 232
      }
    },
    "color": {
      "field": "s",
      "type": "nominal",
      "scale": {
        "domain": ["10MG/0.5ML", "12.5MG/0.5ML", "15MG/0.5ML", "2.5MG/0.5ML", "5MG/0.5ML", "7.5MG/0.5ML"],
        "range": ["#00B050", "#FFC000", "#9BBB59", "#8064A2", "#4BACC6", "#002060"]
      },
      "legend": {
        "title": null,
        "orient": "none",
        "direction": "horizontal",
        "legendX": -30,
        "legendY": 472,
        "padding": 0,
        "symbolType": "stroke",
        "symbolSize": 900,
        "symbolStrokeWidth": 3,
        "labelFontSize": 14,
        "labelFontWeight": "bold",
        "labelColor": "#1F1F1F",
        "labelOffset": 1,
        "labelLimit": 300,
        "columnPadding": 76
      }
    }
  }
}
